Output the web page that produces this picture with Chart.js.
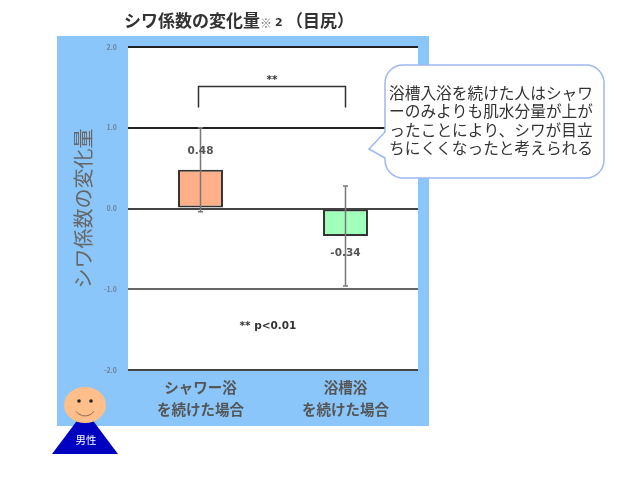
<!DOCTYPE html>
<html lang="ja">
<head>
<meta charset="utf-8">
<title>シワ係数の変化量</title>
<style>
html, body { margin: 0; padding: 0; background: #fff; }
canvas { display: block; }
</style>
<script src="https://cdn.jsdelivr.net/npm/chart.js@4"></script>
</head>
<body>
<canvas id="chart" width="640" height="477"></canvas>
<script>
const categories = [["シャワー浴", "を続けた場合"], ["浴槽浴", "を続けた場合"]];
const changes = [0.48, -0.34];
const errorHigh = [1.0, 0.28];
const errorLow = [-0.04, -0.96];
const valueLabels = ["0.48", "-0.34"];
const barColors = ["#ffb088", "#a0ffb8"];
const gridColors = { "2": "#222", "1": "#222", "0": "#444", "-1": "#666", "-2": "#444" };
const calloutLines = [
    "浴槽入浴を続けた人はシャワ",
    "ーのみよりも肌水分量が上が",
    "ったことにより、シワが目立",
    "ちにくくなったと考えられる",
];

const JP = '"Noto Sans CJK JP", sans-serif';
const LATIN = '"DejaVu Sans", sans-serif';

// blue panel behind the plot, white plot area
const panelPlugin = {
    id: "panel",
    beforeDraw(chart) {
        const { ctx, chartArea: a } = chart;
        ctx.save();
        ctx.fillStyle = "#8ac6f9";
        ctx.fillRect(57, 36, 372, 390);
        ctx.fillStyle = "#fff";
        ctx.fillRect(a.left, a.top, a.right - a.left, a.bottom - a.top);
        ctx.restore();
    },
};

function drawErrorBars(chart) {
    const { ctx, scales: { x, y } } = chart;
    ctx.save();
    ctx.strokeStyle = "#777";
    ctx.lineWidth = 1.5;
    categories.forEach((c, i) => {
        const px = x.getPixelForValue(i);
        const hi = y.getPixelForValue(errorHigh[i]);
        const lo = y.getPixelForValue(errorLow[i]);
        ctx.beginPath();
        ctx.moveTo(px, hi);
        ctx.lineTo(px, lo);
        ctx.moveTo(px - 2.5, hi);
        ctx.lineTo(px + 2.5, hi);
        ctx.moveTo(px - 2.5, lo);
        ctx.lineTo(px + 2.5, lo);
        ctx.stroke();
    });
    ctx.restore();
}

function drawValueLabels(chart) {
    const { ctx, scales: { x, y } } = chart;
    ctx.save();
    ctx.font = "bold 10.5px " + LATIN;
    ctx.fillStyle = "#555";
    ctx.textAlign = "center";
    ctx.textBaseline = "middle";
    categories.forEach((c, i) => {
        const offset = changes[i] >= 0 ? 0.23 : -0.21;
        ctx.fillText(valueLabels[i], x.getPixelForValue(i), y.getPixelForValue(changes[i] + offset));
    });
    ctx.restore();
}

function drawBracket(chart) {
    const { ctx, scales: { x, y } } = chart;
    const left = x.getPixelForValue(0) - 2;
    const right = x.getPixelForValue(1);
    ctx.save();
    ctx.strokeStyle = "#333";
    ctx.lineWidth = 1.5;
    ctx.beginPath();
    ctx.moveTo(left, y.getPixelForValue(1.25));
    ctx.lineTo(left, y.getPixelForValue(1.51));
    ctx.lineTo(right, y.getPixelForValue(1.51));
    ctx.lineTo(right, y.getPixelForValue(1.25));
    ctx.stroke();
    ctx.fillStyle = "#333";
    ctx.font = "bold 10.5px " + LATIN;
    ctx.textAlign = "center";
    ctx.textBaseline = "middle";
    ctx.fillText("**", (left + right) / 2, y.getPixelForValue(1.59));
    ctx.fillText("** p<0.01", 268, y.getPixelForValue(-1.46));
    ctx.restore();
}

function drawTitle(ctx) {
    ctx.save();
    ctx.fillStyle = "#333";
    ctx.textAlign = "left";
    ctx.textBaseline = "middle";
    ctx.font = "bold 17px " + JP;
    ctx.fillText("シワ係数の変化量", 124, 21);
    ctx.font = "bold 12px " + JP;
    ctx.fillStyle = "#777";
    ctx.fillText("※", 260, 23);
    ctx.fillStyle = "#333";
    ctx.font = "bold 11px " + LATIN;
    ctx.fillText("2", 275, 23);
    ctx.font = "bold 17px " + JP;
    ctx.fillText("（目尻）", 286, 21);
    ctx.restore();
}

function drawCallout(ctx) {
    const l = 385, t = 65, r = 604, b = 178, rad = 18;
    ctx.save();
    ctx.beginPath();
    ctx.moveTo(l + rad, t);
    ctx.lineTo(r - rad, t);
    ctx.arcTo(r, t, r, t + rad, rad);
    ctx.lineTo(r, b - rad);
    ctx.arcTo(r, b, r - rad, b, rad);
    ctx.lineTo(l + rad, b);
    ctx.arcTo(l, b, l, b - rad, rad);
    ctx.lineTo(l, 158);
    ctx.lineTo(369, 149);
    ctx.lineTo(l, 132);
    ctx.lineTo(l, t + rad);
    ctx.arcTo(l, t, l + rad, t, rad);
    ctx.closePath();
    ctx.fillStyle = "#fff";
    ctx.fill();
    ctx.strokeStyle = "#9db8f0";
    ctx.lineWidth = 1.5;
    ctx.stroke();
    ctx.fillStyle = "#333";
    ctx.font = "15.7px " + JP;
    ctx.textAlign = "center";
    ctx.textBaseline = "middle";
    calloutLines.forEach((line, i) => ctx.fillText(line, 491, 93 + i * 18.3));
    ctx.restore();
}

function drawPerson(ctx) {
    ctx.save();
    ctx.fillStyle = "#0000c0";
    ctx.beginPath();
    ctx.moveTo(85, 410);
    ctx.lineTo(118, 454);
    ctx.lineTo(52, 454);
    ctx.closePath();
    ctx.fill();
    ctx.fillStyle = "#ffbe8a";
    ctx.beginPath();
    ctx.ellipse(85, 405, 21, 18, 0, 0, Math.PI * 2);
    ctx.fill();
    ctx.fillStyle = "#222";
    [79, 91].forEach((ex) => {
        ctx.beginPath();
        ctx.arc(ex, 401, 1.8, 0, Math.PI * 2);
        ctx.fill();
    });
    ctx.strokeStyle = "#8a6a50";
    ctx.lineWidth = 1;
    ctx.beginPath();
    ctx.arc(85, 405, 11, 0.2 * Math.PI, 0.8 * Math.PI);
    ctx.stroke();
    ctx.fillStyle = "#fff";
    ctx.font = "10.5px " + JP;
    ctx.textAlign = "center";
    ctx.textBaseline = "middle";
    ctx.fillText("男性", 86, 440);
    ctx.restore();
}

const overlayPlugin = {
    id: "overlay",
    afterDraw(chart) {
        drawErrorBars(chart);
        drawValueLabels(chart);
        drawBracket(chart);
        drawTitle(chart.ctx);
        drawCallout(chart.ctx);
        drawPerson(chart.ctx);
    },
};

new Chart(document.getElementById("chart"), {
    type: "bar",
    data: {
        labels: categories,
        datasets: [{
            data: changes,
            backgroundColor: barColors,
            borderColor: "#333",
            borderWidth: 2,
            borderSkipped: false,
            barPercentage: 0.31,
            categoryPercentage: 1,
        }],
    },
    options: {
        responsive: false,
        animation: false,
        devicePixelRatio: 1,
        layout: { padding: { top: 47, right: 222 } },
        plugins: { legend: { display: false }, tooltip: { enabled: false } },
        scales: {
            x: {
                grid: { display: false },
                border: { display: false },
                ticks: { color: "#555", font: { family: JP, size: 14.5, weight: "bold", lineHeight: 1.52 }, padding: -2, maxRotation: 0 },
                afterFit(axis) { axis.height = 107; },
            },
            y: {
                min: -2,
                max: 2,
                afterBuildTicks(axis) { axis.ticks = Object.keys(gridColors).map((v) => ({ value: Number(v) })).sort((a, b) => a.value - b.value); },
                grid: {
                    drawTicks: false,
                    color: (c) => gridColors[String(c.tick.value)],
                    lineWidth: 2,
                },
                border: { display: false },
                ticks: {
                    color: "#6b7f99",
                    font: { family: JP, size: 7, weight: "bold" },
                    padding: 11,
                    callback: (v) => v.toFixed(1),
                },
                title: {
                    display: true,
                    text: "シワ係数の変化量",
                    color: "#666",
                    font: { family: JP, size: 20 },
                    padding: { top: 71 },
                },
                afterFit(axis) { axis.width = 128; },
            },
        },
    },
    plugins: [panelPlugin, overlayPlugin],
});
</script>
</body>
</html>
